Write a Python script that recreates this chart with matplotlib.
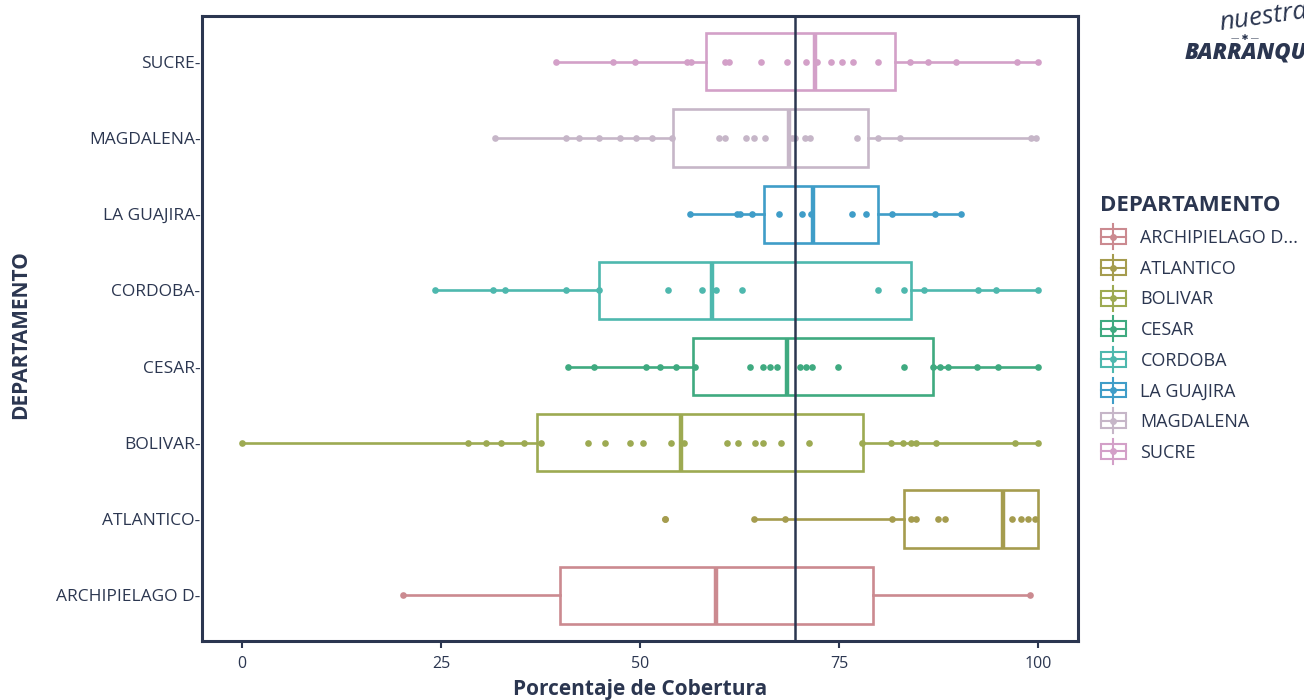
import numpy as np
import matplotlib
matplotlib.use("Agg")
import matplotlib.pyplot as plt
from matplotlib.lines import Line2D
from matplotlib.patches import Rectangle
from matplotlib.legend_handler import HandlerBase

plt.rcParams['font.family'] = ['Open Sans', 'DejaVu Sans']

navy = '#2B3650'

# departamentos (orden de abajo hacia arriba)
departamentos = ["ARCHIPIELAGO D", "ATLANTICO", "BOLIVAR", "CESAR",
                 "CORDOBA", "LA GUAJIRA", "MAGDALENA", "SUCRE"]
etiquetas_leyenda = ["ARCHIPIELAGO D...", "ATLANTICO", "BOLIVAR", "CESAR",
                     "CORDOBA", "LA GUAJIRA", "MAGDALENA", "SUCRE"]
colores = ['#CB8A90', '#A59C4E', '#9DAA52', '#3FAA80',
           '#4EB8AE', '#3F9DC8', '#C6B6C8', '#D3A0C8']

# porcentaje de cobertura por municipio
pts_archipielago = [20.2, 99.0]
pts_atlantico = [53.2, 64.3, 68.2, 81.6, 84.0, 84.6, 87.4, 88.3, 96.7, 97.8, 98.7, 99.6]
pts_bolivar = [0.0, 28.4, 30.7, 32.5, 35.4, 37.6, 43.5, 45.6, 48.7, 50.4, 53.9, 55.5,
               60.9, 62.3, 64.4, 65.4, 67.7, 71.2, 77.9, 81.5, 83.0, 84.0, 84.7, 87.2,
               97.1, 100.0]
pts_cesar = [40.9, 44.2, 50.7, 52.5, 54.5, 56.9, 63.8, 65.5, 66.3, 67.2, 70.1, 70.8,
             71.6, 74.9, 83.1, 86.8, 87.7, 88.7, 92.3, 95.0, 100.0]
pts_cordoba = [24.3, 31.6, 33.1, 40.7, 44.8, 53.5, 57.8, 59.5, 62.8, 79.9, 83.2, 85.6,
               92.5, 94.7, 100.0]
pts_guajira = [56.3, 62.2, 62.6, 64.1, 67.4, 70.3, 71.5, 76.6, 78.4, 81.6, 87.0, 90.3]
pts_magdalena = [31.8, 40.7, 42.3, 44.9, 47.5, 49.5, 51.5, 54.0, 59.9, 60.7, 63.3, 64.3,
                 65.7, 69.1, 69.5, 70.7, 71.4, 77.3, 79.9, 82.6, 99.1, 99.7]
pts_sucre = [39.5, 46.6, 49.4, 55.9, 56.4, 60.7, 61.2, 65.2, 68.5, 70.8, 72.2, 74.0,
             75.4, 76.7, 79.9, 83.9, 86.2, 89.7, 97.4, 100.0]
puntos = [pts_archipielago, pts_atlantico, pts_bolivar, pts_cesar,
          pts_cordoba, pts_guajira, pts_magdalena, pts_sucre]

# estadisticos de las cajas
q1 = [39.9, 83.2, 37.1, 56.6, 44.8, 65.6, 54.1, 58.3]
mediana = [59.6, 95.6, 55.2, 68.5, 59.0, 71.7, 68.7, 72.0]
q3 = [79.3, 100.0, 78.0, 86.8, 84.0, 79.9, 78.6, 82.0]
bigote_inf = [20.2, 64.3, 0.0, 40.9, 24.3, 56.3, 31.8, 39.5]
bigote_sup = [99.0, 100.0, 100.0, 100.0, 100.0, 90.3, 99.7, 100.0]
atipicos = [[], [53.2], [], [], [], [], [], []]

promedio = 69.4


class BoxHandler(HandlerBase):
    def create_artists(self, legend, orig_handle, xdescent, ydescent,
                       width, height, fontsize, trans):
        c = orig_handle.get_color()
        cx = width / 2 - xdescent
        cy = height / 2 - ydescent
        bw, bh = width * 0.95, height * 0.95
        rect = Rectangle((cx - bw / 2, cy - bh / 2), bw, bh, fill=False,
                         edgecolor=c, lw=1.5, transform=trans)
        vl = Line2D([cx, cx], [cy - bh * 0.85, cy + bh * 0.85], color=c, lw=1.5,
                    transform=trans)
        hl = Line2D([cx - bw / 2, cx + bw / 2], [cy, cy], color=c, lw=1.5,
                    transform=trans)
        dot = Line2D([cx], [cy], marker='o', ms=4, color=c, transform=trans)
        return [vl, rect, hl, dot]


fig = plt.figure(figsize=(13.04, 7.0), dpi=100)
ax = fig.add_axes([0.1549, 0.0843, 0.6718, 0.8928])

stats = []
for i in range(len(departamentos)):
    stats.append(dict(whislo=bigote_inf[i], q1=q1[i], med=mediana[i], q3=q3[i],
                      whishi=bigote_sup[i], fliers=atipicos[i]))
posiciones = np.arange(1, len(departamentos) + 1)
bp = ax.bxp(stats, positions=posiciones, widths=0.75, orientation='horizontal',
            showcaps=False, patch_artist=True, manage_ticks=False)
for i, c in enumerate(colores):
    bp['boxes'][i].set(facecolor='white', edgecolor=c, lw=1.9)
    bp['medians'][i].set(color=c, lw=3.2)
    for w in bp['whiskers'][2 * i:2 * i + 2]:
        w.set(color=c, lw=1.9)
    bp['fliers'][i].set(marker='o', markerfacecolor=c, markeredgecolor='none',
                        markersize=4.8)

for i, pts in enumerate(puntos):
    ax.plot(pts, [posiciones[i]] * len(pts), 'o', color=colores[i], ms=4.8,
            mec='none', zorder=4)

ax.axvline(promedio, color=navy, lw=1.8, zorder=5)

ax.set_xlim(-5, 105)
ax.set_ylim(0.4, 8.6)
ax.set_xticks([0, 25, 50, 75, 100])
ax.set_yticks(posiciones)
ax.set_yticklabels([d + '-' for d in departamentos])
ax.tick_params(axis='x', length=5, width=1.5, color=navy, labelcolor=navy,
               labelsize=11.5, pad=6)
ax.tick_params(axis='y', length=0, labelcolor=navy, labelsize=12.5, pad=1)

for s in ax.spines.values():
    s.set_color(navy)
    s.set_linewidth(2.2)

ax.set_xlabel('Porcentaje de Cobertura', fontsize=15, fontweight='bold', color=navy,
              labelpad=5)
ax.set_ylabel('DEPARTAMENTO', fontsize=15, fontweight='bold', color=navy)
ax.yaxis.set_label_coords(-0.195, 0.49)

handles = [Line2D([], [], color=c) for c in colores]
leg = fig.legend(handles, etiquetas_leyenda, loc='upper left',
                 bbox_to_anchor=(0.831, 0.744), frameon=False, title='DEPARTAMENTO',
                 handler_map={Line2D: BoxHandler()}, fontsize=13,
                 handlelength=1.5, handleheight=0.95, labelspacing=0.7,
                 handletextpad=0.75, alignment='left')
leg.get_title().set_fontweight('bold')
leg.get_title().set_fontsize(16)
leg.get_title().set_color(navy)
for t in leg.get_texts():
    t.set_color(navy)

# logo
fig.text(1218 / 1304, 1 - 30 / 700, 'nuestra', fontsize=19, style='italic',
         color=navy, va='baseline', ha='left', rotation=8)
fig.text(1245 / 1304, 1 - 39 / 700, '— ✱ —', fontsize=6, color=navy,
         ha='center', va='center')
fig.text(1185 / 1304, 1 - 59 / 700, 'BARRANQUILLA', fontsize=16, style='italic',
         fontweight='heavy', color=navy, ha='left', va='baseline')

fig.savefig('out.png', dpi=100)
